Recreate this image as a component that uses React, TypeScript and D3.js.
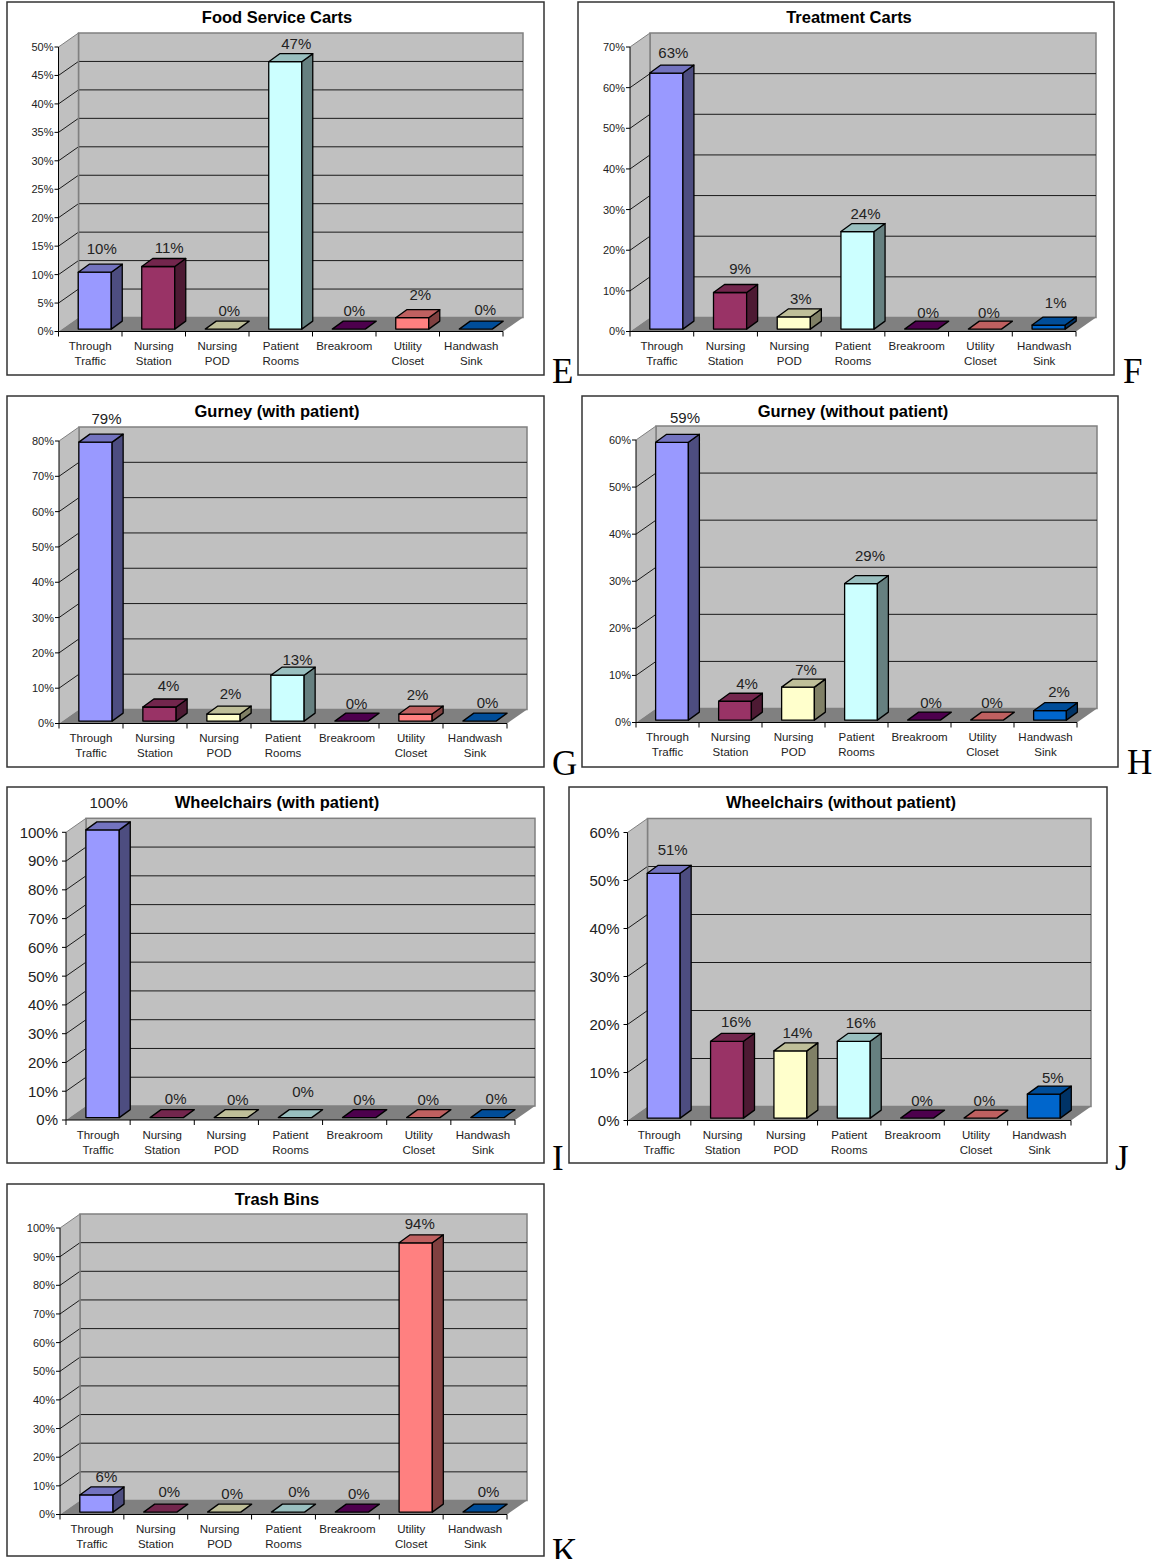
import React from "react";
import * as d3 from "d3";

// Shared categories and their colours
const categories = [
  ["Through", "Traffic"],
  ["Nursing", "Station"],
  ["Nursing", "POD"],
  ["Patient", "Rooms"],
  ["Breakroom"],
  ["Utility", "Closet"],
  ["Handwash", "Sink"],
];
const barColors = ["#9999FF", "#993366", "#FFFFCC", "#CCFFFF", "#660066", "#FF8080", "#0066CC"];

// Percent of observations per location
const foodServiceCarts = [10, 11, 0, 47, 0, 2, 0];
const treatmentCarts = [63, 9, 3, 24, 0, 0, 1];
const gurneyWith = [79, 4, 2, 13, 0, 2, 0];
const gurneyWithout = [59, 4, 7, 29, 0, 0, 2];
const wheelchairsWith = [100, 0, 0, 0, 0, 0, 0];
const wheelchairsWithout = [51, 16, 14, 16, 0, 0, 5];
const trashBins = [6, 0, 0, 0, 0, 94, 0];

// Panel placement and per-label nudges for the value captions
const panels = [
  { title: "Food Service Carts", tag: "E", values: foodServiceCarts, yMax: 50, yStep: 5,
    frame: [7, 2, 544, 375], axisX: 58.5, axisRight: 503, y0: 331.5, yTop: 47, titleX: 277, titleY: 23, tickFont: 11,
    tagPos: [552, 383], lift: [15, 9.5, 10, 9, 10, 14, 11], shift: [7, 11, 7.5, 11, 5.5, 8, 9.5] },
  { title: "Treatment Carts", tag: "F", values: treatmentCarts, yMax: 70, yStep: 10,
    frame: [578, 2, 1114, 375], axisX: 630, axisRight: 1076, y0: 331.5, yTop: 47, titleX: 849, titleY: 23, tickFont: 11,
    tagPos: [1123, 383], lift: [11, 15, 9, 9, 8, 8, 13], shift: [7, 10, 7, 8, 7, 4, 7] },
  { title: "Gurney (with patient)", tag: "G", values: gurneyWith, yMax: 80, yStep: 10,
    frame: [7, 396, 544, 767], axisX: 59, axisRight: 507, y0: 723.5, yTop: 441, titleX: 277, titleY: 417, tickFont: 11,
    tagPos: [552, 775], lift: [15, 12, 11, 7, 9, 10, 10], shift: [11, 9, 7, 10, 5, 2, 8] },
  { title: "Gurney (without patient)", tag: "H", values: gurneyWithout, yMax: 60, yStep: 10,
    frame: [582, 396, 1118, 767], axisX: 636, axisRight: 1077, y0: 722.5, yTop: 440, titleX: 853, titleY: 417, tickFont: 11,
    tagPos: [1127, 774], lift: [16, 9, 9, 19, 9, 9, 10], shift: [13, 12, 8, 9, 7, 5, 9] },
  { title: "Wheelchairs (with patient)", tag: "I", values: wheelchairsWith, yMax: 100, yStep: 10,
    frame: [7, 787, 544, 1163], axisX: 66, axisRight: 515, y0: 1120, yTop: 832.3, titleX: 277, titleY: 808, tickFont: 15,
    tagPos: [552, 1170], lift: [18, 10, 9, 17, 9, 9, 10], shift: [6, 9, 7, 8, 5, 5, 9] },
  { title: "Wheelchairs (without patient)", tag: "J", values: wheelchairsWithout, yMax: 60, yStep: 10,
    frame: [569, 787, 1107, 1163], axisX: 627.5, axisRight: 1071, y0: 1120.5, yTop: 832.5, titleX: 841, titleY: 808, tickFont: 15,
    tagPos: [1115, 1170], lift: [15, 11, 9, 10, 9, 9, 8], shift: [9, 9, 7, 7, 5, 4, 9] },
  { title: "Trash Bins", tag: "K", values: trashBins, yMax: 100, yStep: 10,
    frame: [7, 1184, 544, 1556], axisX: 60, axisRight: 507, y0: 1514.5, yTop: 1228, titleX: 277, titleY: 1205, tickFont: 11,
    tagPos: [552, 1563], lift: [9, 12, 10, 12, 10, 10, 12], shift: [10, 9, 8, 11, 7, 4, 9] },
];

const SANS = "'Liberation Sans', Arial, sans-serif";
const wallDepth = { dx: 20, dy: 14 };
const barDepth = { dx: 11, dy: 8 };
const floorGap = 2.4; // bar feet sit just behind the axis line
const captionGap = 3.5;

const poly = d3.line();
const shade = (hex: string, k: number) => {
  const c = d3.rgb(hex);
  return d3.rgb(c.r * k, c.g * k, c.b * k).formatHex();
};

function Panel({ p }: { p: (typeof panels)[number] }) {
  const { dx, dy } = wallDepth;
  const [fx0, fy0, fx1, fy1] = p.frame;
  const y = d3.scaleLinear().domain([0, p.yMax]).range([p.y0, p.yTop]);
  const x = d3
    .scaleBand<number>()
    .domain(d3.range(categories.length))
    .range([p.axisX, p.axisRight])
    .paddingInner(0.48)
    .paddingOuter(0.24);
  const step = x.step();
  const ticks = d3.range(0, p.yMax + p.yStep / 2, p.yStep);
  const insetX = (dx - barDepth.dx) / 2;
  const tickGap = p.tickFont > 12 ? 8 : 5;

  return (
    <g>
      <rect x={fx0} y={fy0} width={fx1 - fx0} height={fy1 - fy0} fill="#fff" stroke="#333" strokeWidth={1.5} />
      <text x={p.titleX} y={p.titleY} textAnchor="middle" fontFamily={SANS} fontWeight={700} fontSize={16.5} fill="#000">
        {p.title}
      </text>

      {/* back wall, side wall and floor */}
      <rect x={p.axisX + dx} y={p.yTop - dy} width={p.axisRight - p.axisX} height={p.y0 - p.yTop} fill="#C0C0C0" stroke="#808080" strokeWidth={1.5} />
      <path
        d={poly([[p.axisX, p.y0], [p.axisX, p.yTop], [p.axisX + dx, p.yTop - dy], [p.axisX + dx, p.y0 - dy]])!}
        fill="#C0C0C0"
      />
      <path
        d={poly([[p.axisX, p.y0], [p.axisX + dx, p.y0 - dy], [p.axisRight + dx, p.y0 - dy], [p.axisRight, p.y0]]) + "Z"}
        fill="#808080"
      />

      {/* gridlines run along the side wall and across the back wall */}
      {ticks.map((t) => (
        <g key={t}>
          {t > 0 && t < p.yMax && (
            <line x1={p.axisX + dx} x2={p.axisRight + dx} y1={y(t) - dy} y2={y(t) - dy} stroke="#1a1a1a" strokeWidth={1} />
          )}
          {t > 0 && (
            <line x1={p.axisX} x2={p.axisX + dx} y1={y(t)} y2={y(t) - dy} stroke={t === p.yMax ? "#808080" : "#1a1a1a"} strokeWidth={1} />
          )}
          <line x1={p.axisX - 4} x2={p.axisX} y1={y(t)} y2={y(t)} stroke="#000" strokeWidth={1} />
          <text x={p.axisX - tickGap} y={y(t) + p.tickFont * 0.36} textAnchor="end" fontFamily={SANS} fontSize={p.tickFont} fill="#222">
            {t}%
          </text>
        </g>
      ))}
      <line x1={p.axisX + dx} x2={p.axisX + dx} y1={p.yTop - dy} y2={p.y0 - dy} stroke="#808080" strokeWidth={1.5} />

      {/* axes */}
      <line x1={p.axisX} x2={p.axisX} y1={p.yTop} y2={p.y0} stroke="#000" strokeWidth={1} />
      <line x1={p.axisX} x2={p.axisRight} y1={p.y0} y2={p.y0} stroke="#000" strokeWidth={1} />
      {d3.range(categories.length + 1).map((i) => (
        <line key={i} x1={p.axisX + step * i} x2={p.axisX + step * i} y1={p.y0} y2={p.y0 + 5} stroke="#000" strokeWidth={1} />
      ))}
      {categories.map((lines, i) =>
        lines.map((line, j) => (
          <text
            key={line}
            x={p.axisX + step * (i + 0.5)}
            y={p.y0 + 18.5 + j * 15}
            textAnchor="middle"
            fontFamily={SANS}
            fontSize={11.5}
            fill="#222"
          >
            {line}
          </text>
        ))
      )}

      {/* extruded bars */}
      {p.values.map((v, i) => {
        const xl = x(i)! + insetX;
        const xr = xl + x.bandwidth();
        const yb = p.y0 - floorGap;
        const yt = y(v) - floorGap;
        const color = barColors[i];
        return (
          <g key={i} stroke="#000" strokeWidth={1.3} strokeLinejoin="round">
            {v > 0 && <rect x={xl} y={yt} width={xr - xl} height={yb - yt} fill={color} />}
            {v > 0 && (
              <path
                d={poly([[xr, yt], [xr + barDepth.dx, yt - barDepth.dy], [xr + barDepth.dx, yb - barDepth.dy], [xr, yb]]) + "Z"}
                fill={shade(color, 0.5)}
              />
            )}
            <path
              d={poly([[xl, yt], [xl + barDepth.dx, yt - barDepth.dy], [xr + barDepth.dx, yt - barDepth.dy], [xr, yt]]) + "Z"}
              fill={shade(color, 0.75)}
            />
          </g>
        );
      })}

      {/* value captions */}
      {p.values.map((v, i) => (
        <text
          key={i}
          x={x(i)! + insetX + x.bandwidth() / 2 + p.shift[i]}
          y={y(v) - captionGap - barDepth.dy - p.lift[i] + 5.5}
          textAnchor="middle"
          fontFamily={SANS}
          fontSize={15}
          fill="#222"
        >
          {v}%
        </text>
      ))}

      <text x={p.tagPos[0]} y={p.tagPos[1]} fontFamily="'Liberation Serif', 'Times New Roman', serif" fontSize={35} fill="#000">
        {p.tag}
      </text>
    </g>
  );
}

export default function App() {
  return (
    <svg width={1157} height={1559} style={{ position: "absolute", left: 0, top: 0, background: "#fff" }}>
      {panels.map((p) => (
        <Panel key={p.tag} p={p} />
      ))}
    </svg>
  );
}
